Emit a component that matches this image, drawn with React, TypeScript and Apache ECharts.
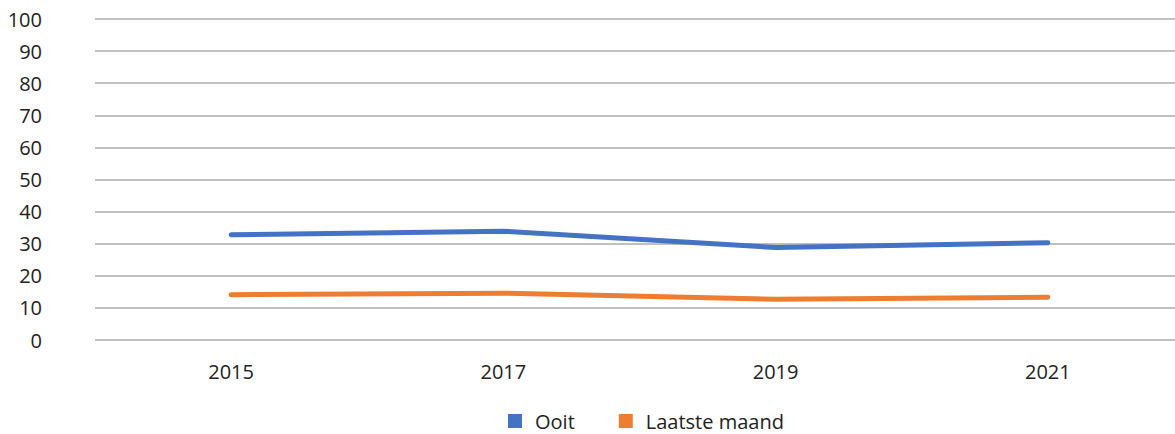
import React, { useEffect, useRef } from "react";
import * as echarts from "echarts";

const years = ["2015", "2017", "2019", "2021"];
const ooit = [32.8, 33.9, 28.8, 30.3];
const laatsteMaand = [14.1, 14.6, 12.7, 13.3];
const seriesNames = ["Ooit", "Laatste maand"];

export default function App() {
  const ref = useRef<HTMLDivElement>(null);
  useEffect(() => {
    if (!ref.current) return;
    const chart = echarts.init(ref.current, null, { renderer: "svg" });
    const font = "'Open Sans', 'Noto Sans', sans-serif";
    chart.setOption({
      animation: false,
      textStyle: { fontFamily: font },
      grid: { left: 95, right: 16, top: 19, bottom: 94 },
      legend: {
        top: 406,
        left: 503,
        itemWidth: 14,
        itemHeight: 14,
        itemGap: 44,
        icon: "rect",
        textStyle: { fontSize: 20, color: "#222", fontFamily: font, padding: [0, 0, 0, 8] },
        data: seriesNames,
      },
      xAxis: {
        type: "category",
        data: years,
        boundaryGap: true,
        axisLine: { show: false },
        axisTick: { show: false },
        axisLabel: { fontSize: 20, color: "#222", margin: 21, fontFamily: font },
      },
      yAxis: {
        type: "value",
        min: 0,
        max: 100,
        interval: 10,
        axisLine: { show: false },
        axisTick: { show: false },
        axisLabel: { fontSize: 20, color: "#222", margin: 53, fontFamily: font },
        splitLine: { lineStyle: { color: "#ababab", width: 1.5 } },
      },
      series: [
        {
          name: seriesNames[0],
          type: "line",
          data: ooit,
          symbol: "none",
          lineStyle: { color: "#4472C4", width: 5, cap: "round" },
          itemStyle: { color: "#4472C4" },
        },
        {
          name: seriesNames[1],
          type: "line",
          data: laatsteMaand,
          symbol: "none",
          lineStyle: { color: "#ED7D31", width: 5, cap: "round" },
          itemStyle: { color: "#ED7D31" },
        },
      ],
    });
    return () => chart.dispose();
  }, []);
  return (
    <div
      style={{ position: "fixed", left: 0, top: 0, width: 1175, height: 434, overflow: "hidden", background: "#fff" }}
    >
      <div ref={ref} style={{ width: 1200, height: 434 }} />
    </div>
  );
}
